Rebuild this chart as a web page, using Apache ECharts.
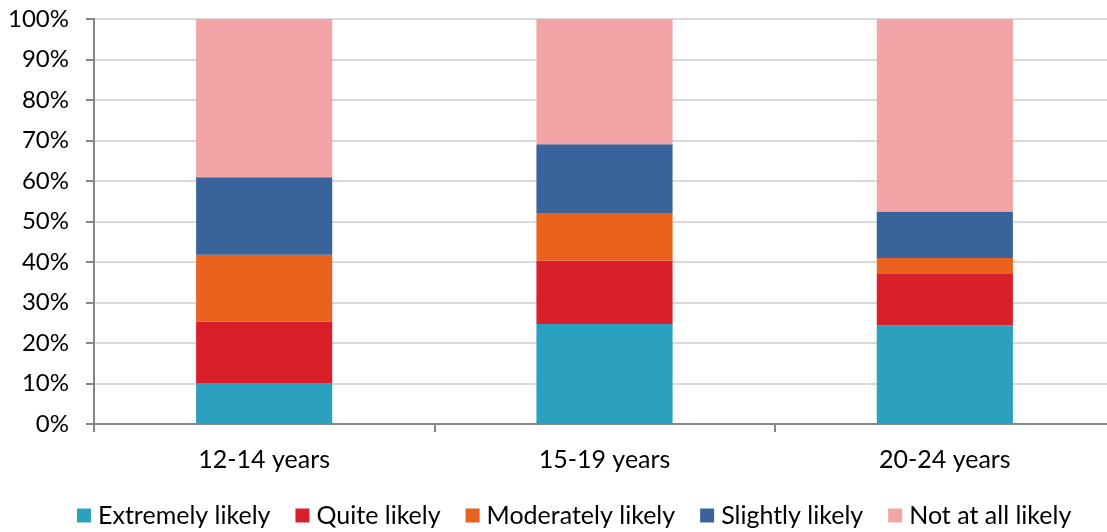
<!DOCTYPE html>
<html><head><meta charset="utf-8">
<script src="https://cdn.jsdelivr.net/npm/echarts@6/dist/echarts.min.js"></script>
<style>html,body{margin:0;padding:0;background:#fff}#c{width:1107px;height:532px}</style>
</head><body><div id="c"></div>
<script>
const categories = ['12-14 years', '15-19 years', '20-24 years'];
const seriesNames = ['Extremely likely', 'Quite likely', 'Moderately likely', 'Slightly likely', 'Not at all likely'];
const extremely = [10.1, 24.7, 24.3];
const quite = [15.2, 15.7, 12.9];
const moderately = [16.5, 11.7, 3.8];
const slightly = [19.1, 17.0, 11.5];
const notAtAll = [39.1, 30.9, 47.5];
const colors = ['#2ca1bf', '#d91f29', '#e9631e', '#39649b', '#f2a4a7'];
const values = [extremely, quite, moderately, slightly, notAtAll];
const font = 'Lato, "Open Sans", sans-serif';

const chart = echarts.init(document.getElementById('c'));
chart.setOption({
  animation: false,
  grid: { left: 94, width: 1021, top: 19, bottom: 108, outerBoundsMode: 'none', containLabel: false },
  legend: {
    bottom: 4, left: 77, padding: 0,
    itemWidth: 14, itemHeight: 14, itemGap: 25,
    icon: 'rect',
    textStyle: { fontFamily: font, fontSize: 25, color: '#000', padding: [0, 0, 0, 2] },
    data: seriesNames
  },
  xAxis: {
    type: 'category', data: categories,
    axisLine: { lineStyle: { color: '#868686', width: 2 } },
    axisTick: { show: true, length: 8, lineStyle: { color: '#868686', width: 2 } },
    axisLabel: { fontFamily: font, fontSize: 25, color: '#000', margin: 23 }
  },
  yAxis: {
    type: 'value', min: 0, max: 100, interval: 10,
    axisLine: { show: true, lineStyle: { color: '#868686', width: 2 } },
    axisTick: { show: true, length: 8, lineStyle: { color: '#868686', width: 2 } },
    splitLine: { lineStyle: { color: '#d9d9d9', width: 2 } },
    axisLabel: { fontFamily: font, fontSize: 24, color: '#000', margin: 25, formatter: '{value}%' }
  },
  series: seriesNames.map((n, i) => ({
    name: n, type: 'bar', stack: 'a', barWidth: '40%',
    itemStyle: { color: colors[i] },
    data: values[i]
  }))
});
</script></body></html>
